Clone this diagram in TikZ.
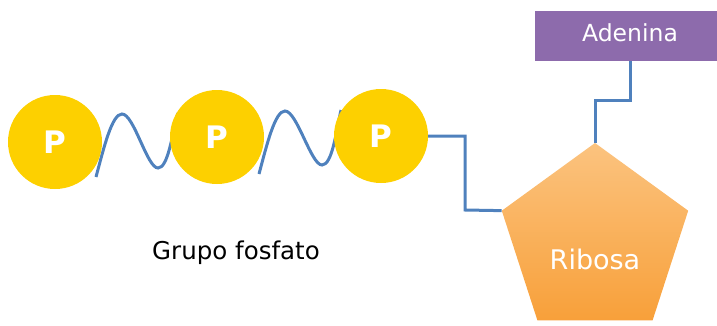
\documentclass[tikz,border=0pt]{standalone}
\usepackage{fontspec}
\setmainfont{DejaVu Sans}
\usetikzlibrary{shapes.geometric}
\definecolor{pyellow}{HTML}{FDD000}
\definecolor{bondblue}{HTML}{4F81BD}
\definecolor{adepurple}{HTML}{8D6BAC}
\definecolor{ribtop}{HTML}{FBC37F}
\definecolor{ribbot}{HTML}{F8A03A}
\tikzset{
  phos/.style={circle,fill=pyellow,minimum size=94pt,inner sep=0pt,text=white,font=\fontsize{31}{33}\selectfont\bfseries},
  bond/.style={draw=bondblue,line width=3pt,line join=miter},
  wave/.style={draw=bondblue,line width=3pt},
  ribo/.style={regular polygon,regular polygon sides=5,minimum size=196pt,inner sep=0pt,top color=ribtop,bottom color=ribbot,draw=none},
  adebox/.style={rectangle,fill=adepurple,minimum width=182pt,minimum height=50pt,inner sep=0pt,anchor=south west},
  lbl/.style={text=white}
}
\begin{document}
\begin{tikzpicture}[x=1pt,y=1pt]
\useasboundingbox (0,0) rectangle (717,325);
% waves (behind circles)
\coordinate (w1s) at (96,148);
\coordinate (w1e) at (178,212);
\coordinate (w2s) at (259,151);
\coordinate (w2e) at (341,215);
\draw[wave] (w1s) .. controls (104,178) and (112,211) .. (122,211)
  .. controls (134,211) and (147,157) .. (158,157)
  .. controls (168,157) and (172,190) .. (w1e);
\draw[wave] (w2s) .. controls (267,181) and (275,214) .. (285,214)
  .. controls (297,214) and (311,160) .. (322,160)
  .. controls (332,160) and (336,192) .. (w2e);
% phosphates
\node[phos] (p1) at (55,183) {P};
\node[phos] (p2) at (217,188) {P};
\node[phos] (p3) at (381,189) {P};
% ribose
\node[ribo] (rib) at (595,84) {};
\node[lbl,font=\fontsize{27}{29}\selectfont] (ribt) at (595,66) {Ribosa};
% adenine
\node[adebox] (ade) at (535,264) {};
\node[lbl,font=\fontsize{23.5}{26}\selectfont] (adet) at (630,292) {Adenina};
% bonds
\draw[bond] (p3.east) -| (465,115) -- (rib.corner 2);
\draw[bond] (rib.corner 1) -- (595,225) -| (ade.south west -| 630,0);
% caption
\node[font=\fontsize{24.5}{27}\selectfont] (cap) at (236,72) {Grupo fosfato};
\end{tikzpicture}
\end{document}
